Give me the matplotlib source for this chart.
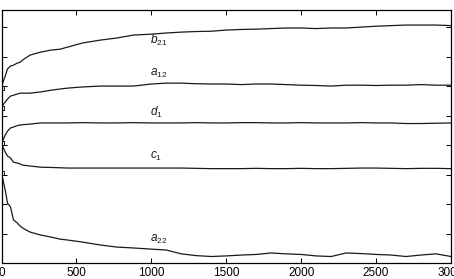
import numpy as np
import matplotlib.pyplot as plt

plt.rcParams['font.family'] = ['Liberation Sans', 'DejaVu Sans']
plt.rcParams['mathtext.fontset'] = 'custom'
plt.rcParams['mathtext.it'] = 'Liberation Sans:italic'
plt.rcParams['mathtext.rm'] = 'Liberation Sans'

# iteraciones
x = [0, 10, 25, 40, 60, 80, 105, 125, 140, 190, 260, 330, 390, 440, 540, 660, 770, 880,
     1000, 1100, 1200, 1300, 1400, 1500, 1600, 1700, 1800, 1900, 2000, 2100, 2200,
     2300, 2400, 2500, 2600, 2700, 2800, 2900, 3000]

b21 = [5.93, 6.14, 6.34, 6.58, 6.68, 6.71, 6.78, 6.81, 6.88, 7.05, 7.15, 7.22, 7.25, 7.32, 7.46,
       7.56, 7.63, 7.73, 7.76, 7.80, 7.83, 7.85, 7.86, 7.90, 7.92, 7.93, 7.95, 7.97, 7.97,
       7.95, 7.97, 7.97, 8.00, 8.03, 8.05, 8.07, 8.07, 8.07, 8.05]
a12 = [5.25, 5.36, 5.46, 5.56, 5.66, 5.69, 5.73, 5.76, 5.76, 5.76, 5.80, 5.86, 5.90, 5.93, 5.97,
       6.00, 6.00, 6.00, 6.07, 6.10, 6.10, 6.08, 6.07, 6.07, 6.05, 6.07, 6.07, 6.05, 6.03,
       6.02, 6.00, 6.03, 6.03, 6.02, 6.03, 6.03, 6.05, 6.03, 6.03]
d1 = [4.07, 4.17, 4.34, 4.47, 4.58, 4.61, 4.66, 4.68, 4.69, 4.71, 4.75, 4.75, 4.75, 4.75, 4.76,
      4.75, 4.75, 4.76, 4.75, 4.75, 4.75, 4.76, 4.75, 4.75, 4.76, 4.76, 4.75, 4.75, 4.76,
      4.75, 4.75, 4.75, 4.76, 4.75, 4.75, 4.73, 4.73, 4.74, 4.75]
c1 = [4.07, 3.93, 3.76, 3.63, 3.56, 3.42, 3.39, 3.36, 3.32, 3.29, 3.25, 3.24, 3.23, 3.22, 3.22,
      3.22, 3.22, 3.22, 3.22, 3.22, 3.22, 3.21, 3.20, 3.20, 3.20, 3.21, 3.20, 3.20, 3.21,
      3.20, 3.20, 3.21, 3.22, 3.22, 3.21, 3.20, 3.21, 3.21, 3.20]
a22 = [3.05, 2.81, 2.47, 2.03, 1.90, 1.46, 1.36, 1.25, 1.19, 1.05, 0.95, 0.88, 0.81, 0.78, 0.71,
       0.61, 0.54, 0.51, 0.47, 0.44, 0.31, 0.25, 0.22, 0.24, 0.27, 0.29, 0.34, 0.31, 0.29,
       0.24, 0.22, 0.34, 0.32, 0.29, 0.27, 0.22, 0.27, 0.31, 0.22]

series = [b21, a12, d1, c1, a22]
nombres = [r'$\mathit{b}_{\mathit{21}}$', r'$\mathit{a}_{\mathit{12}}$', r'$\mathit{d}_{\mathit{1}}$',
           r'$\mathit{c}_{\mathit{1}}$', r'$\mathit{a}_{\mathit{22}}$']
etiqueta_y = [7.44, 6.35, 4.98, 3.52, 0.72]

fig = plt.figure(figsize=(4.54, 2.79), dpi=100)
ax = fig.add_axes([1.5 / 454, 16 / 279, 449.5 / 454, 253 / 279])

for s in series:
    ax.plot(x, s, color='#1a1a1a', lw=0.9, marker='s', ms=2.5, mfc='none', mew=0.7, markevery=[0])

for nombre, yy in zip(nombres, etiqueta_y):
    ax.text(990, yy, nombre, fontsize=8.5, va='baseline', ha='left', color='#1a1a1a')

ax.set_xlim(0, 3000)
ax.set_ylim(0, 8.58)
ax.set_xticks(np.arange(0, 3001, 500))
ax.set_yticks(np.arange(1, 9))
ax.set_yticklabels([])
ax.tick_params(direction='in', top=True, right=True, length=3.5, width=0.7, labelsize=8.5, pad=3)
for sp in ax.spines.values():
    sp.set_linewidth(0.9)

plt.savefig('out.png', dpi=100)
